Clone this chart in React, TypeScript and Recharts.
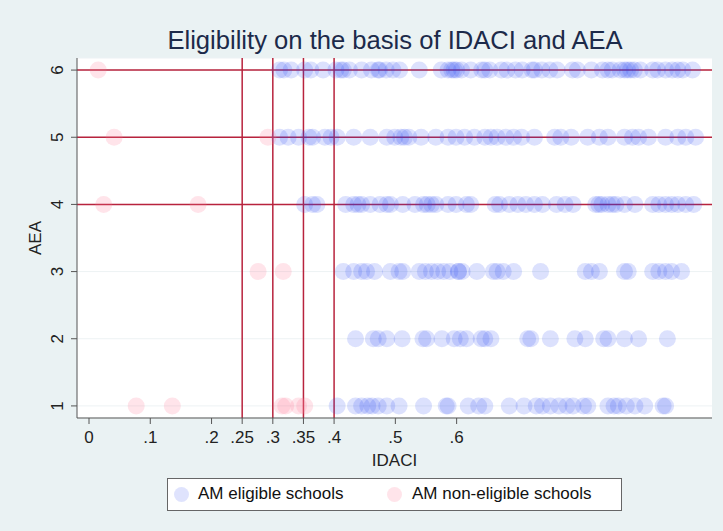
import React from "react";
import {
  ScatterChart,
  Scatter,
  XAxis,
  YAxis,
  CartesianGrid,
  ReferenceLine,
} from "recharts";

// ---------- data ----------
const xTicks = [0, 0.1, 0.2, 0.25, 0.3, 0.35, 0.4, 0.5, 0.6];
const yTicks = [1, 2, 3, 4, 5, 6];
const idaciCutoffs = [0.25, 0.3, 0.35, 0.4];
const aeaCutoffs = [4, 5, 6];

const eligibleAEA6 = [0.311, 0.318, 0.33, 0.352, 0.362, 0.382, 0.403, 0.411, 0.415, 0.425, 0.445, 0.461, 0.472, 0.474, 0.485, 0.496, 0.507, 0.539, 0.575, 0.586, 0.592, 0.596, 0.6, 0.608, 0.623, 0.641, 0.646, 0.654, 0.673, 0.682, 0.696, 0.707, 0.723, 0.727, 0.739, 0.752, 0.764, 0.789, 0.797, 0.82, 0.838, 0.847, 0.854, 0.867, 0.874, 0.879, 0.884, 0.89, 0.9, 0.92, 0.928, 0.941, 0.952, 0.961, 0.969, 0.985];
const eligibleAEA5 = [0.311, 0.325, 0.342, 0.359, 0.365, 0.385, 0.395, 0.405, 0.432, 0.459, 0.486, 0.499, 0.509, 0.515, 0.522, 0.542, 0.566, 0.586, 0.599, 0.613, 0.629, 0.646, 0.656, 0.666, 0.68, 0.693, 0.706, 0.727, 0.76, 0.77, 0.787, 0.814, 0.833, 0.847, 0.874, 0.887, 0.897, 0.913, 0.941, 0.961, 0.974, 0.99];
const eligibleAEA4 = [0.352, 0.365, 0.372, 0.419, 0.432, 0.439, 0.445, 0.459, 0.475, 0.486, 0.492, 0.512, 0.532, 0.546, 0.552, 0.559, 0.566, 0.586, 0.599, 0.616, 0.623, 0.663, 0.67, 0.686, 0.7, 0.713, 0.727, 0.74, 0.763, 0.777, 0.79, 0.827, 0.832, 0.837, 0.847, 0.854, 0.86, 0.874, 0.891, 0.92, 0.93, 0.941, 0.951, 0.961, 0.974, 0.987];
const eligibleAEA3 = [0.415, 0.432, 0.445, 0.453, 0.466, 0.492, 0.506, 0.512, 0.539, 0.549, 0.559, 0.569, 0.579, 0.589, 0.603, 0.603, 0.609, 0.633, 0.66, 0.666, 0.676, 0.693, 0.737, 0.81, 0.82, 0.833, 0.874, 0.88, 0.92, 0.93, 0.941, 0.951, 0.967];
const eligibleAEA2 = [0.435, 0.464, 0.472, 0.486, 0.511, 0.545, 0.551, 0.576, 0.596, 0.606, 0.616, 0.64, 0.646, 0.656, 0.716, 0.721, 0.753, 0.793, 0.81, 0.84, 0.847, 0.874, 0.897, 0.944];
const eligibleAEA1 = [0.405, 0.435, 0.445, 0.455, 0.462, 0.472, 0.486, 0.506, 0.546, 0.583, 0.586, 0.619, 0.636, 0.646, 0.686, 0.71, 0.73, 0.74, 0.753, 0.767, 0.78, 0.79, 0.807, 0.814, 0.847, 0.857, 0.864, 0.877, 0.891, 0.907, 0.937, 0.941];

const nonEligibleAEA6 = [0.015];
const nonEligibleAEA5 = [0.041, 0.292];
const nonEligibleAEA4 = [0.024, 0.178];
const nonEligibleAEA3 = [0.276, 0.317];
const nonEligibleAEA1 = [0.077, 0.136, 0.315, 0.321, 0.342, 0.352];

const eligibleRows: [number, number[]][] = [
  [6, eligibleAEA6],
  [5, eligibleAEA5],
  [4, eligibleAEA4],
  [3, eligibleAEA3],
  [2, eligibleAEA2],
  [1, eligibleAEA1],
];
const nonEligibleRows: [number, number[]][] = [
  [6, nonEligibleAEA6],
  [5, nonEligibleAEA5],
  [4, nonEligibleAEA4],
  [3, nonEligibleAEA3],
  [1, nonEligibleAEA1],
];

const toPoints = (rows: [number, number[]][]) =>
  rows.flatMap(([aea, xs]) => xs.map((idaci) => ({ idaci, aea })));

const eligibleData = toPoints(eligibleRows);
const nonEligibleData = toPoints(nonEligibleRows);

// ---------- styles ----------
const FONT = "'Liberation Sans', Arial, Helvetica, sans-serif";
const BG = "#eaf2f3";
const RED = "#b8233d";
const BLUE = "rgb(40,70,240)";
const PINK = "rgb(255,120,150)";

const blueDot = (p: any) => (
  <circle cx={p.cx} cy={p.cy} r={8.5} fill={BLUE} fillOpacity={0.16} />
);
const pinkDot = (p: any) => (
  <circle cx={p.cx} cy={p.cy} r={8.5} fill={PINK} fillOpacity={0.2} />
);

const fmtX = (v: number) => (v === 0 ? "0" : String(v).replace(/^0/, ""));

const YTick = (p: any) => {
  const { x, y, payload } = p;
  const bx = x - 8;
  return (
    <text
      x={bx}
      y={y}
      transform={`rotate(-90, ${bx}, ${y})`}
      textAnchor="middle"
      fontSize={17}
      fontFamily={FONT}
      fill="#222"
    >
      {payload.value}
    </text>
  );
};

export default function App() {
  return (
    <div
      style={{
        position: "absolute",
        left: 0,
        top: 0,
        width: 723,
        height: 531,
        background: BG,
        fontFamily: FONT,
      }}
    >
      <div
        style={{
          position: "absolute",
          left: 0,
          top: 26,
          width: 790,
          textAlign: "center",
          fontSize: 25.6,
          color: "#1c2a4a",
          whiteSpace: "nowrap",
        }}
      >
        Eligibility on the basis of IDACI and AEA
      </div>
      <div style={{ position: "absolute", left: 0, top: 0 }}>
        <ScatterChart
          width={723}
          height={531}
          margin={{ top: 58, right: 11, bottom: 73, left: 0 }}
        >
          <CartesianGrid
            vertical={false}
            stroke="#edf2f4"
            fill="#ffffff"
            fillOpacity={1}
          />
          <XAxis
            type="number"
            dataKey="idaci"
            domain={[-0.0196, 1.0168]}
            ticks={xTicks}
            tickFormatter={fmtX}
            allowDataOverflow
            height={40}
            tickSize={6}
            tickMargin={7}
            stroke="#555"
            tick={{ fill: "#222", fontSize: 17, fontFamily: FONT }}
            label={{
              value: "IDACI",
              position: "insideBottom",
              offset: -8,
              fill: "#222",
              fontSize: 17,
              fontFamily: FONT,
            }}
          />
          <YAxis
            type="number"
            dataKey="aea"
            domain={[0.82, 6.18]}
            ticks={yTicks}
            allowDataOverflow
            width={77}
            tickSize={6}
            tickMargin={0}
            stroke="#555"
            tick={<YTick />}
            label={{
              value: "AEA",
              angle: -90,
              position: "insideLeft",
              offset: 35,
              fill: "#222",
              fontSize: 17,
              fontFamily: FONT,
              style: { textAnchor: "middle" },
            }}
          />
          <Scatter
            name="AM eligible schools"
            data={eligibleData}
            shape={blueDot}
            isAnimationActive={false}
          />
          <Scatter
            name="AM non-eligible schools"
            data={nonEligibleData}
            shape={pinkDot}
            isAnimationActive={false}
          />
          {idaciCutoffs.map((c) => (
            <ReferenceLine key={"x" + c} x={c} stroke={RED} strokeWidth={1.5} />
          ))}
          {aeaCutoffs.map((c) => (
            <ReferenceLine key={"y" + c} y={c} stroke={RED} strokeWidth={1.5} />
          ))}
        </ScatterChart>
      </div>
      <div
        style={{
          position: "absolute",
          left: 167,
          top: 478,
          width: 453,
          height: 31,
          background: "#fff",
          border: "1px solid #666",
          fontSize: 17,
          color: "#111",
        }}
      >
        <span
          style={{
            position: "absolute",
            left: 6,
            top: 8,
            width: 15,
            height: 15,
            borderRadius: "50%",
            background: "rgba(40,70,240,0.15)",
          }}
        />
        <span style={{ position: "absolute", left: 30, top: 5 }}>
          AM eligible schools
        </span>
        <span
          style={{
            position: "absolute",
            left: 219,
            top: 8,
            width: 15,
            height: 15,
            borderRadius: "50%",
            background: "rgba(255,120,150,0.2)",
          }}
        />
        <span style={{ position: "absolute", left: 244, top: 5 }}>
          AM non-eligible schools
        </span>
      </div>
    </div>
  );
}
